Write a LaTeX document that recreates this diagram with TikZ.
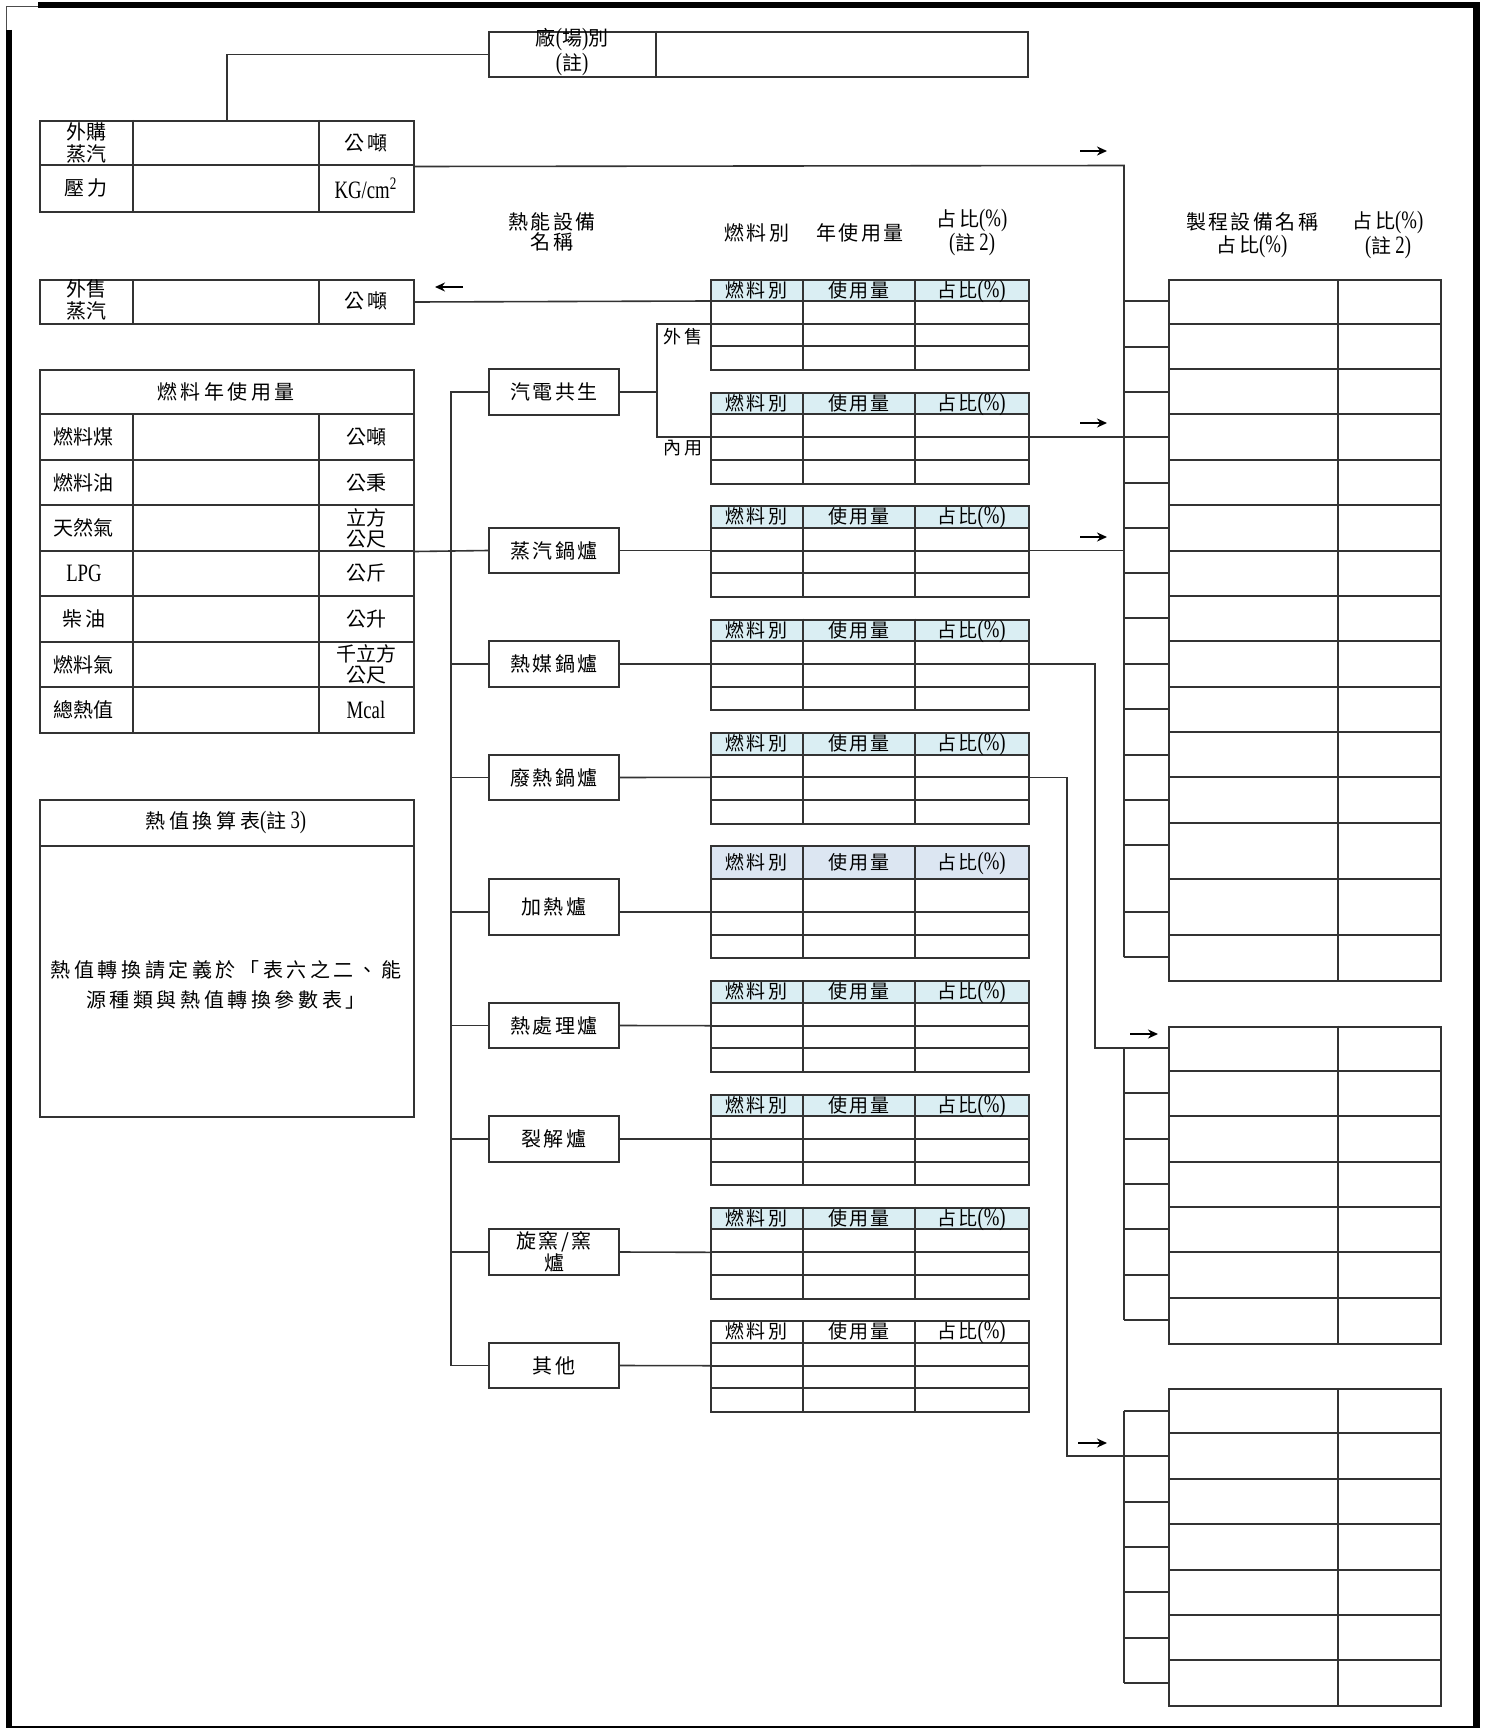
\documentclass[tikz,border=0pt]{standalone}
\usepackage{fontspec}
\usetikzlibrary{arrows.meta}
\newfontfamily\cjk{Noto Sans CJK TC}
\newfontfamily\cjkw[LetterSpace=12]{Noto Sans CJK TC}
\newfontfamily\cjkx[LetterSpace=18]{Noto Sans CJK TC}
\newfontfamily\latf[FakeStretch=0.75]{Liberation Serif}
\definecolor{hdr}{HTML}{DAEEF3}
\definecolor{hdrb}{HTML}{DCE6F2}
\definecolor{ln}{HTML}{333333}
\newcommand\zlat[1]{{\latf\fontsize{12.5}{12}\selectfont #1}}
\newcommand\pct{\zlat{(\%)}}
\newcommand\zhu[1]{\zlat{(}註\zlat{\,#1)}}
\tikzset{
  frame/.style={draw=ln, line width=1pt, inner sep=0pt, anchor=north west},
  grid/.style={draw=ln, line width=1pt},
  conn/.style={draw=ln, line width=0.8pt},
  arr/.style={draw=black, line width=0.9pt, -{Stealth[length=5pt,width=4.5pt]}},
  txt/.style={inner sep=0pt, align=center, font=\cjk\fontsize{10}{10.5}\selectfont},
  txtw/.style={txt, font=\cjkw\fontsize{10}{10.5}\selectfont},
  txtx/.style={txt, font=\cjkx\fontsize{10}{10.5}\selectfont},
  hdtxt/.style={inner sep=0pt, anchor=base, font=\cjkw\fontsize{9.5}{10}\selectfont},
  eqbox/.style={draw=ln, line width=1pt, inner sep=0pt, minimum width=65pt, minimum height=22.8pt, align=center, font=\cjkw\fontsize{10}{10}\selectfont}
}
% fuel-type table: name, fill, y0..y4
\newcommand\ftable[7]{%
  \fill[#2] (710,#3) rectangle (1028,#4);
  \draw[grid] (710,#4) -- (1028,#4) (710,#5) -- (1028,#5) (710,#6) -- (1028,#6)
     (803,#3) -- (803,#7) (915,#3) -- (915,#7);
  \node[frame, minimum width=159pt, minimum height={(#7-#3)*0.5pt}] (#1) at (710,#3) {};
  \node[hdtxt] (#1a) at (756.5,{(#3+#4)/2+7.2}) {燃料別};
  \node[hdtxt] (#1b) at (859,{(#3+#4)/2+7.2}) {使用量};
  \node[hdtxt] (#1c) at (971.5,{(#3+#4)/2+7.2}) {占比\pct};
}
\begin{document}
\begin{tikzpicture}[x=0.5pt,y=-0.5pt]
\useasboundingbox (0,0) rectangle (1484,1728);
% outer frame
\draw[line width=3pt] (38,5.5) -- (1480,5.5);
\draw[line width=3pt] (9,30) -- (9,1728);
\draw[line width=3.5pt] (1476.5,3) -- (1476.5,1728);
\draw[line width=1pt] (6,1727) -- (1476,1727);
\draw[line width=0.6pt, black!70] (6.5,30) -- (6.5,6.5) -- (38,6.5);

% factory box
\node[frame, minimum width=269.5pt, minimum height=22.65pt] (fac) at (488,30.7) {};
\draw[grid] (656,30.7) -- (656,76);
\node[txt, font=\cjk\fontsize{10}{9.5}\selectfont] (facl) at (572,52) {廠\zlat{(}場\zlat{)}別\\\zlat{(}註\zlat{)}};

% purchased steam
\node[frame, minimum width=187pt, minimum height=45.5pt] (buy) at (39,120) {};
\draw[grid] (39,165.5) -- (413,165.5) (133,120) -- (133,211) (319,120) -- (319,211);
\node[txt, font=\cjk\fontsize{10}{11}\selectfont] (buyl) at (86,143) {外購\\蒸汽};
\node[txtw] (buyu) at (366,143) {公噸};
\node[txtx] (prl) at (86,188) {壓力};
\node[txt] (pru) at (366,188) {\latf\fontsize{12.5}{12}\selectfont KG/cm\textsuperscript{2}};

% sold steam
\node[frame, minimum width=187pt, minimum height=22pt] (sell) at (39,279) {};
\draw[grid] (133,279) -- (133,323) (319,279) -- (319,323);
\node[txt, font=\cjk\fontsize{10}{11}\selectfont] (selll) at (86,300) {外售\\蒸汽};
\node[txtw] (sellu) at (366,301) {公噸};

% fuel annual usage
\node[frame, minimum width=187pt, minimum height=181.5pt] (fuel) at (39,369) {};
\foreach \y in {414,460,505,550.7,596,642,687} \draw[grid] (39,\y) -- (413,\y);
\draw[grid] (133,414) -- (133,732) (319,414) -- (319,732);
\node[txtx] (fuelh) at (226,391.5) {燃料年使用量};
\node[txt] (f1a) at (84,437) {燃料煤};   \node[txt] (f1b) at (366,437) {公噸};
\node[txt] (f2a) at (84,482.5) {燃料油}; \node[txt] (f2b) at (366,482.5) {公秉};
\node[txt] (f3a) at (84,528) {天然氣};   \node[txt] (f3b) at (366,528) {立方\\公尺};
\node[txt] (f4a) at (84,573.5) {\latf\fontsize{12.5}{12}\selectfont LPG}; \node[txt] (f4b) at (366,573.5) {公斤};
\node[txtw] (f5a) at (84,619) {柴油};     \node[txt] (f5b) at (366,619) {公升};
\node[txt] (f6a) at (84,664.5) {燃料氣}; \node[txt] (f6b) at (366,664.5) {千立方\\公尺};
\node[txt] (f7a) at (84,709.5) {總熱值}; \node[txt] (f7b) at (366,709.5) {\latf\fontsize{12.5}{12}\selectfont Mcal};

% heat value conversion
\node[frame, minimum width=187pt, minimum height=158.5pt] (conv) at (39,799) {};
\draw[grid] (39,845.7) -- (413,845.7);
\node[txtx] (convh) at (226,822.5) {熱值換算表\zhu{3}};
\node[txt, font=\cjkx\fontsize{10}{15}\selectfont] (convb) at (226,985) {熱值轉換請定義於「表六之二、能\\源種類與熱值轉換參數表」};

% column headings
\node[txtw, font=\cjkw\fontsize{10}{10}\selectfont] (hA) at (552,232) {熱能設備\\名稱};
\node[txtw] (hB) at (757,233) {燃料別};
\node[txtw] (hC) at (860,233) {年使用量};
\node[txtw] (hD) at (972,232.5) {占比\pct\\\zhu{2}};
\node[txtw, font=\cjkw\fontsize{10}{11.5}\selectfont] (hE) at (1252,235) {製程設備名稱\\占比\pct};
\node[txtw, font=\cjkw\fontsize{10}{11}\selectfont] (hF) at (1388,235) {占比\pct\\\zhu{2}};

% equipment boxes
\node[eqbox] (cogen) at (554,391.7) {汽電共生};
\node[eqbox] (steam) at (554,550.5) {蒸汽鍋爐};
\node[eqbox] (media) at (554,664) {熱媒鍋爐};
\node[eqbox] (waste) at (554,777.5) {廢熱鍋爐};
\node[eqbox, minimum height=28.15pt] (heat) at (554,907) {加熱爐};
\node[eqbox] (treat) at (554,1025.5) {熱處理爐};
\node[eqbox] (crack) at (554,1139) {裂解爐};
\node[eqbox] (kiln) at (554,1252) {旋窯/窯\\爐};
\node[eqbox] (other) at (554,1365.5) {其他};

% fuel tables
\ftable{t1}{hdr}{279}{301}{324}{346}{369}
\ftable{t2}{hdr}{392}{414.3}{437}{460}{482.7}
\ftable{t3}{hdr}{505.3}{527.5}{550.5}{573.3}{595.5}
\ftable{t4}{hdr}{618.7}{641}{664}{686.7}{709.3}
\ftable{t5}{hdr}{732}{754.5}{777.3}{800}{822.7}
\ftable{t6}{hdrb}{845.3}{878.5}{912}{934.5}{957.3}
\ftable{t7}{hdr}{980}{1002.5}{1025.7}{1048}{1070.7}
\ftable{t8}{hdr}{1093.7}{1116}{1139}{1161.7}{1184.3}
\ftable{t9}{hdr}{1206.7}{1229}{1252.3}{1275}{1297.7}
\ftable{t10}{white}{1320}{1342.7}{1365.7}{1388.3}{1411}

\node[txtw, font=\cjkw\fontsize{9}{9}\selectfont] (ls) at (683,337) {外售};
\node[txtw, font=\cjkw\fontsize{9}{9}\selectfont] (lu) at (683,448) {內用};

% ports
\coordinate (t1p) at (710,324);
\coordinate (t2p) at (710,437);
\coordinate (sp) at (656.7,391.7);
\coordinate (t1s) at (710,301);
\coordinate (t3l) at (710,550.5);
\coordinate (t4l) at (710,664);
\coordinate (t5l) at (710,777.3);
\coordinate (t6l) at (710,912);
\coordinate (t7l) at (710,1025.7);
\coordinate (t8l) at (710,1139);
\coordinate (t9l) at (710,1252.3);
\coordinate (t10l) at (710,1365.7);
\coordinate (t2r) at (1028,437);
\coordinate (t3r) at (1028,550.5);
\coordinate (t4r) at (1028,664);
\coordinate (t5r) at (1028,777.3);
\coordinate (bA) at (451,391.7);
\coordinate (bB) at (451,1365.5);
\coordinate (bus1top) at (1124,165.5);
\coordinate (bus1bot) at (1124,957);
\coordinate (j2) at (1124,437);
\coordinate (j3) at (1124,550.5);
\coordinate (k4) at (1095,1048);
\coordinate (r2in) at (1168,1048);
\coordinate (k5) at (1067,1456);
\coordinate (r3in) at (1168,1456);

% connectors
\draw[conn] (buy.north) |- (fac.west);
\draw[conn] (buy.east) -- (bus1top) -- (bus1bot);
\draw[conn] (t1s) -- (sell.east);
\draw[conn] (fuel.east) -- (steam.west);
\draw[conn] (cogen.west) -- (bA) -- (bB) -- (other.west);
\foreach \n in {steam,media,waste,treat,crack,kiln} \draw[conn] (bA |- \n.west) -- (\n.west);
\draw[conn] (bA |- t6l) -- (heat.west |- t6l);
\foreach \n/\p in {steam/t3l,media/t4l,waste/t5l,treat/t7l,crack/t8l,kiln/t9l,other/t10l} \draw[conn] (\n.east) -- (\p);
\draw[conn] (heat.east |- t6l) -- (t6l);
\draw[conn] (cogen.east) -- (sp);
\draw[conn] (t1p) -| (sp) |- (t2p);
\draw[conn] (t2r) -- (j2);
\draw[conn] (t3r) -- (j3);
\draw[conn] (t4r) -| (k4) -- (r2in);
\draw[conn] (t5r) -| (k5) -- (r3in);

% process tables
\node[frame, minimum width=136pt, minimum height=350.5pt] (r1) at (1168,279) {};
\draw[grid] (1338,279) -- (1338,980);
\foreach \y in {324,369,414,460,505,551,596,641,687,732,777,823,879,935} \draw[grid] (1168,\y) -- (1440,\y);
\foreach \y in {301,347,392,437,483,528,573,618,664,709,755,800,845,912,957} \draw[conn] (1124,\y) -- (1168,\y);

\node[frame, minimum width=136pt, minimum height=158.5pt] (r2) at (1168,1025.7) {};
\draw[grid] (1338,1025.7) -- (1338,1342.7);
\foreach \y in {1070.7,1116,1161.7,1207,1252,1297.7} \draw[grid] (1168,\y) -- (1440,\y);
\draw[conn] (1124,1048) -- (1124,1320);
\foreach \y in {1093,1138.7,1184,1229,1274.7,1320} \draw[conn] (1124,\y) -- (1168,\y);

\node[frame, minimum width=136pt, minimum height=158.5pt] (r3) at (1168,1388) {};
\draw[grid] (1338,1388) -- (1338,1705);
\foreach \y in {1433,1479,1524,1570,1615,1660} \draw[grid] (1168,\y) -- (1440,\y);
\draw[conn] (1124,1411) -- (1124,1683);
\foreach \y in {1411,1456,1502,1547,1592,1638,1683} \draw[conn] (1124,\y) -- (1168,\y);

% direction marks
\coordinate (m1a) at (1080,151);  \coordinate (m1b) at (1107,151);
\coordinate (m2a) at (1080,423);  \coordinate (m2b) at (1107,423);
\coordinate (m3a) at (1080,537);  \coordinate (m3b) at (1107,537);
\coordinate (m4a) at (1130,1034); \coordinate (m4b) at (1158,1034);
\coordinate (m5a) at (1078,1443); \coordinate (m5b) at (1107,1443);
\coordinate (m6a) at (463,287);   \coordinate (m6b) at (435,287);
\foreach \m in {1,...,6} \draw[arr] (m\m a) -- (m\m b);
\end{tikzpicture}
\end{document}
